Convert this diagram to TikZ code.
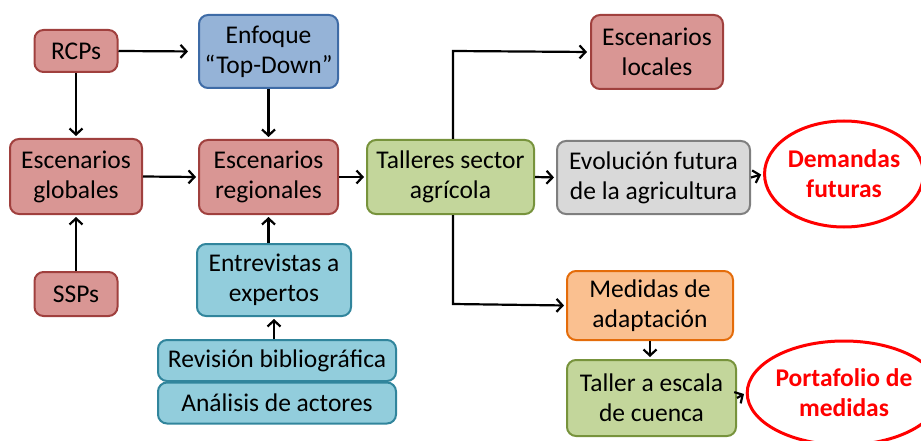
\documentclass[tikz,border=0pt]{standalone}
\usepackage{fontspec}
\setmainfont{Carlito}
\usetikzlibrary{arrows.meta,shapes.geometric}
\definecolor{redF}{HTML}{D99694}\definecolor{redD}{HTML}{A0403E}
\definecolor{bluF}{HTML}{95B3D7}\definecolor{bluD}{HTML}{3E6BA6}
\definecolor{grnF}{HTML}{C3D69B}\definecolor{grnD}{HTML}{77933C}
\definecolor{gryF}{HTML}{D9D9D9}\definecolor{gryD}{HTML}{7F7F7F}
\definecolor{tealF}{HTML}{92CDDC}\definecolor{tealD}{HTML}{31859C}
\definecolor{orF}{HTML}{FAC090}\definecolor{orD}{HTML}{E46C0A}
\begin{document}
\begin{tikzpicture}[x=1pt,y=-1pt,
  every node/.style={font=\fontsize{25.5}{30}\selectfont, align=center, inner sep=0pt},
  box/.style={draw, rounded corners=9pt, line width=2pt},
  redbox/.style={box, fill=redF, draw=redD},
  blubox/.style={box, fill=bluF, draw=bluD},
  grnbox/.style={box, fill=grnF, draw=grnD},
  grybox/.style={box, fill=gryF, draw=gryD},
  tealbox/.style={box, fill=tealF, draw=tealD},
  orbox/.style={box, fill=orF, draw=orD},
  oval/.style={ellipse, draw=red, line width=3pt, text=red, font=\fontsize{25.5}{30}\selectfont\bfseries, inner sep=0pt},
  arr/.style={line width=2.2pt, -{Straight Barb[length=6pt,width=13pt,line width=2.2pt]}}
]
\useasboundingbox (0,0) rectangle (921,441);
\node[redbox, minimum width=83, minimum height=42] (rcp) at (76,51) {RCPs};
\node[blubox, minimum width=139, minimum height=73] (enf) at (268.5,51.5) {Enfoque\\“Top-Down”};
\node[redbox, minimum width=132, minimum height=75] (glob) at (76,176.5) {Escenarios\\globales};
\node[redbox, minimum width=139, minimum height=74] (reg) at (268.5,177) {Escenarios\\regionales};
\node[grnbox, minimum width=167, minimum height=74] (tal) at (450.5,177) {Talleres sector\\agrícola};
\node[redbox, minimum width=132, minimum height=74] (loc) at (657,52) {Escenarios\\locales};
\node[grybox, minimum width=193, minimum height=73] (evo) at (653.5,177.5) {Evolución futura\\de la agricultura};
\node[oval, minimum width=150, minimum height=106] (dem) at (844,174) {Demandas\\futuras};
\node[redbox, minimum width=83, minimum height=44] (ssp) at (76,294) {SSPs};
\node[tealbox, minimum width=154, minimum height=72] (ent) at (274,280) {Entrevistas a\\expertos};
\node[tealbox, minimum width=238, minimum height=41] (rev) at (277,360.5) {Revisión bibliográfica};
\node[tealbox, minimum width=238, minimum height=41] (ana) at (277,403) {Análisis de actores};
\node[orbox, minimum width=166, minimum height=69] (med) at (650,305.5) {Medidas de\\adaptación};
\node[grnbox, minimum width=169, minimum height=76] (tall) at (651.5,398) {Taller a escala\\de cuenca};
\node[oval, minimum width=150, minimum height=104] (por) at (844,393) {Portafolio de\\medidas};
\coordinate (tl) at (453,51);
\coordinate (bl) at (453,304);
\draw[arr, shorten >=10pt] (rcp.east) -- (enf.west);
\draw[arr, shorten >=2pt] (rcp.south) -- (glob.north);
\draw[arr, shorten >=2pt] (enf.south) -- (reg.north);
\draw[arr, shorten >=2pt] (ssp.north) -- (glob.south);
\draw[arr, shorten >=2pt] (glob.east) -- (reg.west);
\draw[arr, shorten >=2pt] (reg.east) -- (tal.west);
\draw[arr, shorten >=2pt] (ent.north -| reg.south) -- (reg.south);
\draw[arr, shorten >=2pt] (rev.north -| ent.south) -- (ent.south);
\draw[arr, shorten >=2pt] (tal.east) -- (evo.west);
\draw[arr, shorten >=2pt] (evo.east) -- (dem.west);
\draw[arr, shorten >=3pt] (tal.north -| tl) -- (tl) -- (loc.west);
\draw[arr, shorten >=2pt] (tal.south -| bl) -- (bl) -- (med.west);
\draw[arr, shorten >=2pt] (med.south) -- (tall.north -| med.south);
\draw[arr, shorten >=2pt] (tall.east) -- (por.west);
\end{tikzpicture}
\end{document}
